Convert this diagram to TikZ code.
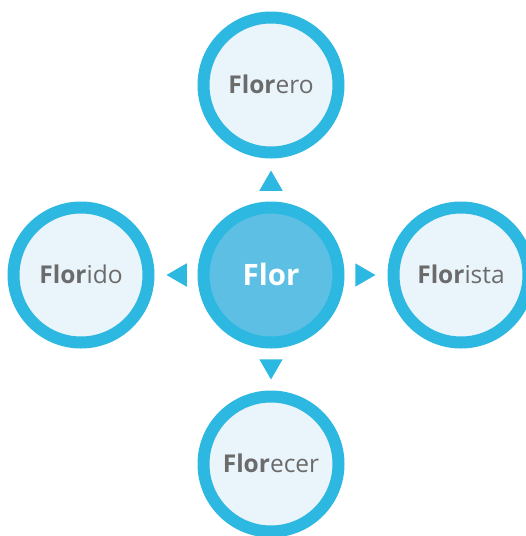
\documentclass[tikz,border=0pt]{standalone}
\usepackage{fontspec}
\setmainfont{Open Sans}
\usetikzlibrary{shapes.geometric}
\definecolor{ringblue}{HTML}{2CB8E0}
\definecolor{hubfill}{HTML}{5CBFE3}
\definecolor{leaffill}{HTML}{EAF4FB}
\definecolor{wordgray}{HTML}{6B6B6B}
\tikzset{
  word/.style={circle, draw=ringblue, line width=12pt, fill=leaffill, minimum size=135pt, inner sep=0pt, text=wordgray, font=\fontsize{24.5}{28}\selectfont},
  hub/.style={word, fill=hubfill, text=white, font=\fontsize{29.5}{32}\selectfont\bfseries},
  pointer/.style={regular polygon, regular polygon sides=3, fill=ringblue, minimum size=27pt, inner sep=0pt}
}
\begin{document}
\begin{tikzpicture}[x=1pt, y=-1pt, line join=round]
	\useasboundingbox (0,0) rectangle (526,536);
	\begin{scope}
		\clip (0,0) rectangle (526,536);
		% circles
		\node[hub] (flor) at (271,275) {\raisebox{1pt}{Flor}};
		\node[word] (florero) at (271,85) {\raisebox{1.5pt}{\textbf{Flor}ero}};
		\node[word] (florecer) at (271,464) {\raisebox{1.5pt}{\textbf{Flor}ecer}};
		\node[word] (florido) at (81,275) {\raisebox{1.5pt}{\textbf{Flor}ido}};
		\node[word] (florista) at (461,275) {\raisebox{1.5pt}{\textbf{Flor}ista}};
	\end{scope}
	% arrow heads
	\node[pointer] (pup) at (271,184) {};
	\node[pointer, shape border rotate=180] (pdown) at (271,366) {};
	\node[pointer, shape border rotate=90] (pleft) at (180,275) {};
	\node[pointer, shape border rotate=-90] (pright) at (362,275) {};
\end{tikzpicture}
\end{document}
